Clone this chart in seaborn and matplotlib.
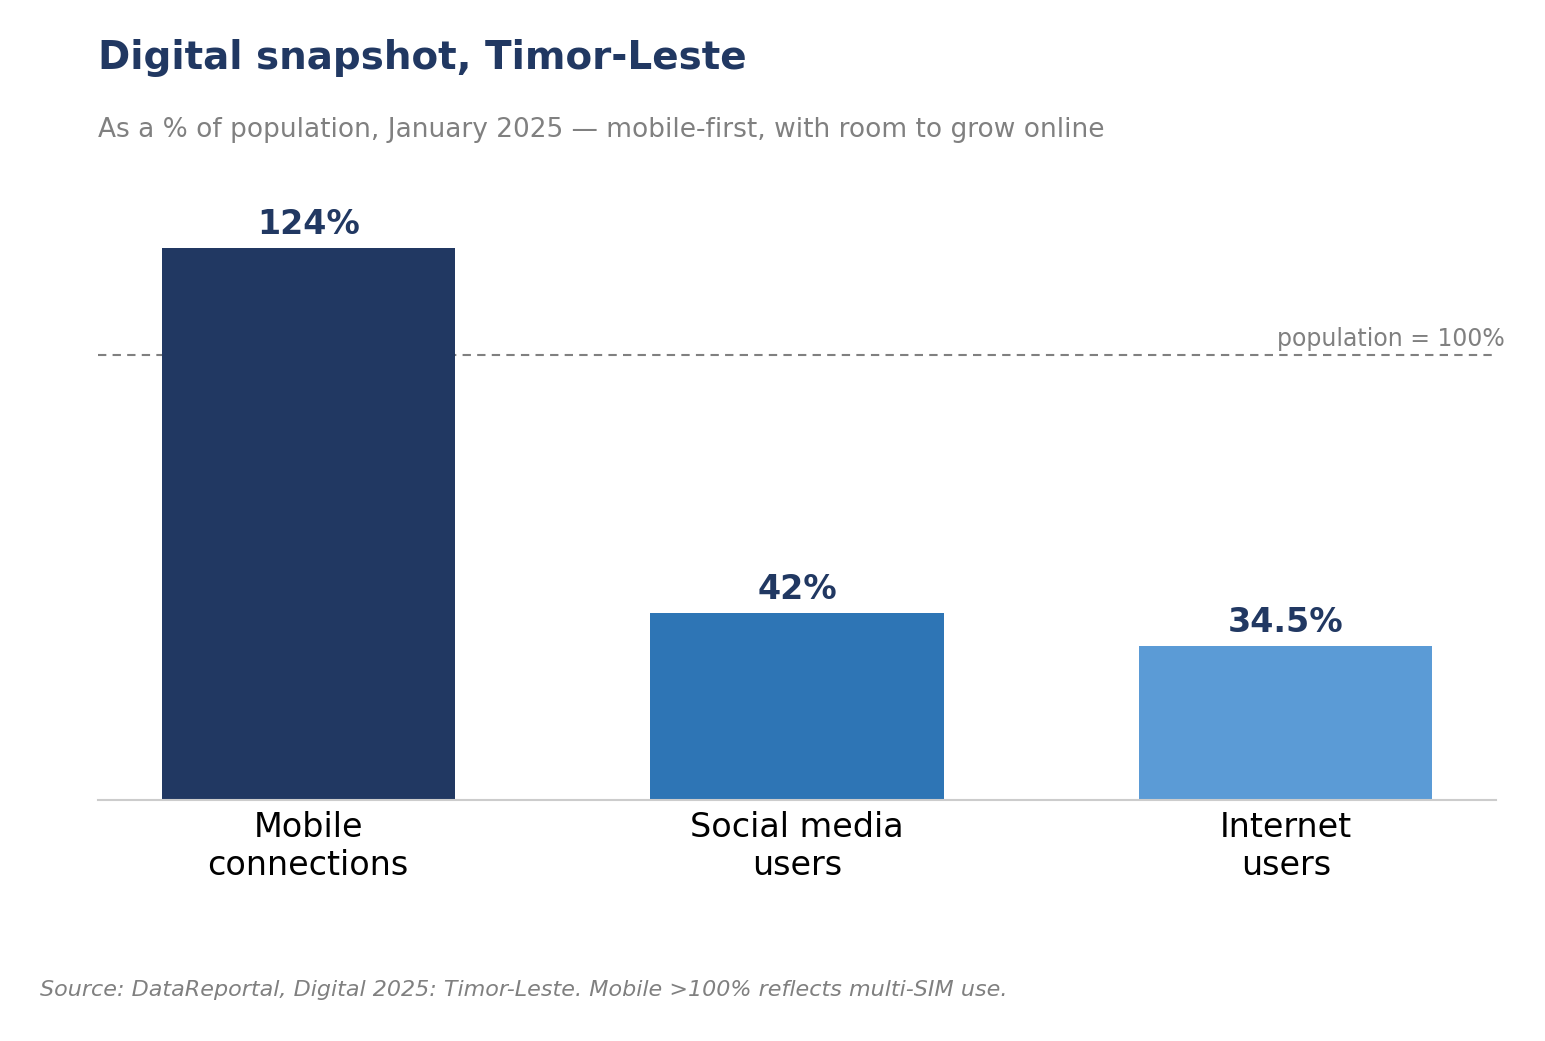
import matplotlib
matplotlib.use("Agg")
import matplotlib.pyplot as plt
import seaborn as sns
import pandas as pd

categories = ["Mobile\nconnections", "Social media\nusers", "Internet\nusers"]
values = [124, 42, 34.5]
value_labels = ["124%", "42%", "34.5%"]
colors = ["#213862", "#2e75b5", "#5b9bd6"]
ref_value = 100
ref_label = "population = 100%"

sns.set_theme(style="white")
plt.rcParams['font.family'] = ['DejaVu Sans']

df = pd.DataFrame({"category": categories, "value": values})

fig = plt.figure(figsize=(15.45, 10.41), dpi=100)
ax = fig.add_axes([98/1545, 1-800/1041, (1496-98)/1545, (800-193)/1041])

sns.barplot(data=df, x="category", y="value", hue="category", palette=colors,
            width=0.6, legend=False, ax=ax, saturation=1, linewidth=0)

ax.set_xlim(-0.43, 2.43)
ax.set_ylim(0, 136.4)

for i, (v, lab) in enumerate(zip(values, value_labels)):
    ax.text(i, v + 1.6, lab, ha="center", va="bottom", fontsize=24,
            fontweight="bold", color="#213862")

ax.axhline(ref_value, color="#808080", linestyle=(0, (4, 3)), linewidth=1.5, zorder=0)
ax.text(1.0064, ref_value + 1.0, ref_label, transform=ax.get_yaxis_transform(),
        ha="right", va="bottom", fontsize=17, color="#808080")

ax.set_xlabel("")
ax.set_ylabel("")
ax.set_yticks([])
ax.tick_params(axis="x", labelsize=24, colors="black", length=0, pad=8)
for s in ["top", "right", "left"]:
    ax.spines[s].set_visible(False)
ax.spines["bottom"].set_color("#cccccc")
ax.spines["bottom"].set_linewidth(1.5)

fig.text(98/1545, 1-58/1041, "Digital snapshot, Timor-Leste", fontsize=28,
         fontweight="bold", color="#213862", ha="left", va="center")
fig.text(98/1545, 1-130/1041, "As a % of population, January 2025 \u2014 mobile-first, with room to grow online",
         fontsize=19, color="#808080", ha="left", va="center")
fig.text(40/1545, 1-990/1041, "Source: DataReportal, Digital 2025: Timor-Leste. Mobile >100% reflects multi-SIM use.",
         fontsize=16, style="italic", color="#808080", ha="left", va="center")

fig.savefig("out.png", dpi=100)
